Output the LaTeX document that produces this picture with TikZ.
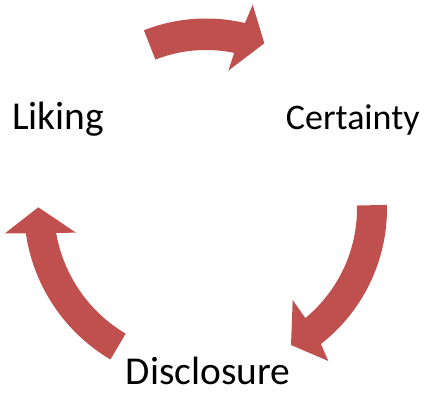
\documentclass[tikz,border=0pt]{standalone}
\usepackage{fontspec}
\setmainfont{Carlito}
\definecolor{arrowred}{RGB}{192,80,77}
\begin{document}
\begin{tikzpicture}[x=1pt,y=-1pt,
  arrowfill/.style={fill=arrowred,draw=none},
  lbl/.style={inner sep=0pt,anchor=base,font=\fontsize{39.5}{46}\selectfont,text=black}]
\useasboundingbox (0,0) rectangle (428,395);
% top arrow
\fill[arrowfill] plot[domain=-111.5:-76.7,samples=40] ({206+169.5*cos(\x)},{188+169.5*sin(\x)})
  -- (252.7,4.7) -- (264.3,43.3) -- (228.3,70.7)
  -- plot[domain=-78.2:-111.5,samples=40] ({206+138*cos(\x)},{188+138*sin(\x)}) -- cycle;
% right arrow
\fill[arrowfill] plot[domain=-1.2:52,samples=40] ({215+172*cos(\x)},{208.5+172*sin(\x)})
  -- (328.3,361) -- (291,345) -- (292.7,300)
  -- plot[domain=50.5:-1.2,samples=40] ({215+142*cos(\x)},{208.5+142*sin(\x)}) -- cycle;
% left arrow
\fill[arrowfill] plot[domain=120.6:171.7,samples=40] ({200+176*cos(\x)},{208+176*sin(\x)})
  -- (5,233.3) -- (38.3,207.3) -- (76,232.7)
  -- plot[domain=170.2:120.6,samples=40] ({200+146*cos(\x)},{208+146*sin(\x)}) -- cycle;
\node[lbl] (liking) at (58.3,129.3) {Liking};
\node[lbl,font=\fontsize{36}{42}\selectfont] (certainty) at (352.8,129.3) {Certainty};
\node[lbl] (disclosure) at (208,384.3) {Disclosure};
\end{tikzpicture}
\end{document}
